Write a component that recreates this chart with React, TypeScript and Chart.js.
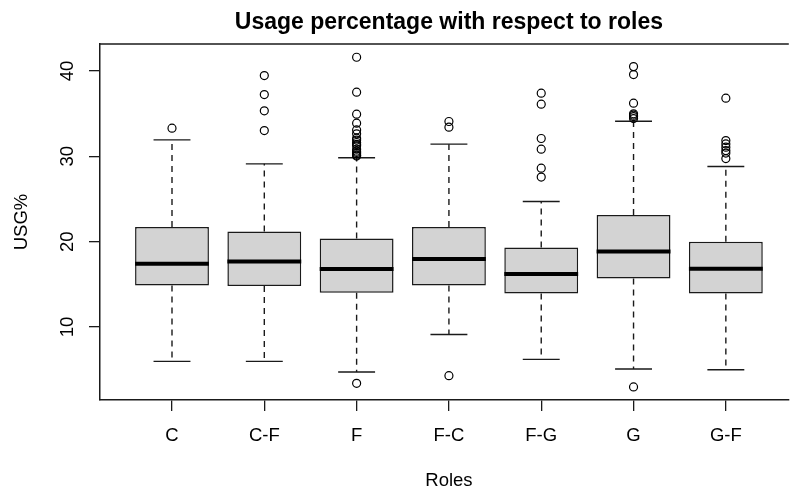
import { useEffect, useRef } from 'react';
import { Chart, registerables } from 'chart.js';

Chart.register(...registerables);

// Usage percentage (USG%) summary per player role
const roles = ['C', 'C-F', 'F', 'F-C', 'F-G', 'G', 'G-F'];
const lowerWhisker = [5.97, 5.97, 4.73, 9.13, 6.21, 5.08, 5.0];
const lowerQuartile = [14.87, 14.8, 14.01, 14.87, 13.93, 15.69, 13.93];
const medians = [17.41, 17.68, 16.79, 17.96, 16.2, 18.85, 16.82];
const upperQuartile = [21.7, 21.19, 20.37, 21.7, 19.32, 23.11, 19.98];
const upperWhisker = [31.92, 29.11, 29.82, 31.42, 24.7, 34.11, 28.8];

const outliersC = [33.29];
const outliersCF = [39.45, 37.23, 35.32, 33.01];
const outliersF = [
  3.4, 41.6, 37.51, 34.93, 33.88, 33.09, 32.63, 32.12, 31.9, 31.61, 31.4, 31.22,
  30.83, 30.6, 30.44, 30.3, 30.13, 30.02,
];
const outliersFC = [4.3, 34.07, 33.41];
const outliersFG = [37.39, 36.1, 32.08, 30.83, 28.61, 27.56];
const outliersG = [2.98, 40.5, 39.57, 36.22, 34.97, 34.81, 34.65, 34.42];
const outliersGF = [36.8, 31.84, 31.45, 31.07, 30.67, 30.37, 29.73];
const outliers = [outliersC, outliersCF, outliersF, outliersFC, outliersFG, outliersG, outliersGF];

const yTicks = [10, 20, 30, 40];

const FONT = '"Liberation Sans", Arial, Helvetica, sans-serif';
const INK = '#1a1a1a';

// Whiskers, staples and medians drawn on top of the box bars
const boxPartsPlugin = {
  id: 'boxParts',
  afterDatasetDraw(chart: any, args: any) {
    if (args.meta.type !== 'bar') return;
    const { ctx } = chart;
    const y = chart.scales.y;
    ctx.save();
    ctx.strokeStyle = INK;
    args.meta.data.forEach((el: any, i: number) => {
      const cx = el.x;
      const w = el.width;
      const pq1 = y.getPixelForValue(lowerQuartile[i]);
      const pq3 = y.getPixelForValue(upperQuartile[i]);
      const plo = y.getPixelForValue(lowerWhisker[i]);
      const phi = y.getPixelForValue(upperWhisker[i]);
      const pmed = y.getPixelForValue(medians[i]);

      ctx.lineWidth = 1.4;
      ctx.setLineDash([6, 5]);
      ctx.beginPath();
      ctx.moveTo(cx, pq3);
      ctx.lineTo(cx, phi);
      ctx.moveTo(cx, pq1);
      ctx.lineTo(cx, plo);
      ctx.stroke();

      ctx.setLineDash([]);
      ctx.beginPath();
      ctx.moveTo(cx - w / 4, phi);
      ctx.lineTo(cx + w / 4, phi);
      ctx.moveTo(cx - w / 4, plo);
      ctx.lineTo(cx + w / 4, plo);
      ctx.stroke();

      ctx.lineWidth = 4;
      ctx.strokeStyle = '#000';
      ctx.beginPath();
      ctx.moveTo(cx - w / 2, pmed);
      ctx.lineTo(cx + w / 2, pmed);
      ctx.stroke();
      ctx.strokeStyle = INK;
    });
    ctx.restore();
  },
};

// Frame top line, title, axis titles and rotated y tick labels
const textPlugin = {
  id: 'plotText',
  afterDraw(chart: any) {
    const { ctx, chartArea } = chart;
    const x = chart.scales.x;
    const y = chart.scales.y;
    ctx.save();
    ctx.strokeStyle = INK;
    ctx.lineWidth = 1.5;
    ctx.beginPath();
    ctx.moveTo(chartArea.left, chartArea.top);
    ctx.lineTo(chartArea.right, chartArea.top);
    ctx.stroke();

    const midX = x.getPixelForValue((1 + roles.length) / 2);
    ctx.fillStyle = '#000';
    ctx.textAlign = 'center';
    ctx.textBaseline = 'alphabetic';
    ctx.font = `bold 23px ${FONT}`;
    ctx.fillText('Usage percentage with respect to roles', midX, 28.5);

    ctx.font = `18.5px ${FONT}`;
    ctx.fillText('Roles', midX, 486);

    yTicks.forEach((t) => {
      ctx.save();
      ctx.translate(72.5, y.getPixelForValue(t));
      ctx.rotate(-Math.PI / 2);
      ctx.fillText(String(t), 0, 0);
      ctx.restore();
    });

    ctx.save();
    ctx.translate(26.7, (chartArea.top + chartArea.bottom) / 2);
    ctx.rotate(-Math.PI / 2);
    ctx.fillText('USG%', 0, 0);
    ctx.restore();
    ctx.restore();
  },
};

export default function App() {
  const ref = useRef<HTMLCanvasElement>(null);

  useEffect(() => {
    document.body.style.margin = '0';
    const canvas = ref.current;
    if (!canvas) return;

    const boxes = roles.map((_, i) => ({ x: i + 1, y: [lowerQuartile[i], upperQuartile[i]] }));
    const outlierPoints = outliers.flatMap((vals, i) => vals.map((v) => ({ x: i + 1, y: v })));

    const chart = new Chart(canvas, {
      type: 'bar',
      data: {
        datasets: [
          {
            type: 'bar',
            data: boxes as any,
            backgroundColor: '#d3d3d3',
            borderColor: INK,
            borderWidth: 1.5,
            borderSkipped: false,
            categoryPercentage: 0.8,
            barPercentage: 1,
            order: 2,
          },
          {
            type: 'scatter',
            data: outlierPoints,
            pointStyle: 'circle',
            pointRadius: 4,
            pointHoverRadius: 4,
            backgroundColor: 'rgba(0,0,0,0)',
            borderColor: '#000',
            borderWidth: 1.2,
            order: 1,
          } as any,
        ],
      },
      options: {
        responsive: false,
        animation: false,
        devicePixelRatio: 1,
        events: [],
        layout: { padding: { top: 44, left: 0, right: 0, bottom: 0 } },
        plugins: {
          legend: { display: false },
          tooltip: { enabled: false },
          title: { display: false },
        },
        scales: {
          x: {
            type: 'linear',
            min: 0.22,
            max: 7.682,
            offset: false,
            afterBuildTicks: (s: any) => {
              s.ticks = roles.map((_, i) => ({ value: i + 1 }));
            },
            afterFit: (s: any) => {
              s.height = 90;
            },
            ticks: {
              autoSkip: false,
              maxRotation: 0,
              minRotation: 0,
              padding: 14,
              color: '#000',
              font: { family: FONT, size: 18.5 },
              callback: (v: any) => roles[Number(v) - 1] ?? '',
            },
            grid: {
              display: true,
              drawOnChartArea: false,
              drawTicks: true,
              tickLength: 11,
              color: INK,
              lineWidth: 1.3,
              offset: false,
            },
            border: { display: true, color: INK, width: 1.5 },
          },
          y: {
            type: 'linear',
            min: 1.45,
            max: 43.15,
            afterBuildTicks: (s: any) => {
              s.ticks = yTicks.map((v) => ({ value: v }));
            },
            afterFit: (s: any) => {
              s.width = 100;
            },
            ticks: { display: false },
            grid: {
              display: true,
              drawOnChartArea: false,
              drawTicks: true,
              tickLength: 11,
              color: INK,
              lineWidth: 1.3,
            },
            border: { display: true, color: INK, width: 1.5 },
          },
        },
      },
      plugins: [boxPartsPlugin, textPlugin],
    });

    return () => chart.destroy();
  }, []);

  return (
    <div style={{ width: 794, height: 490, background: '#fff' }}>
      <canvas ref={ref} width={794} height={490} style={{ display: 'block' }} />
    </div>
  );
}
